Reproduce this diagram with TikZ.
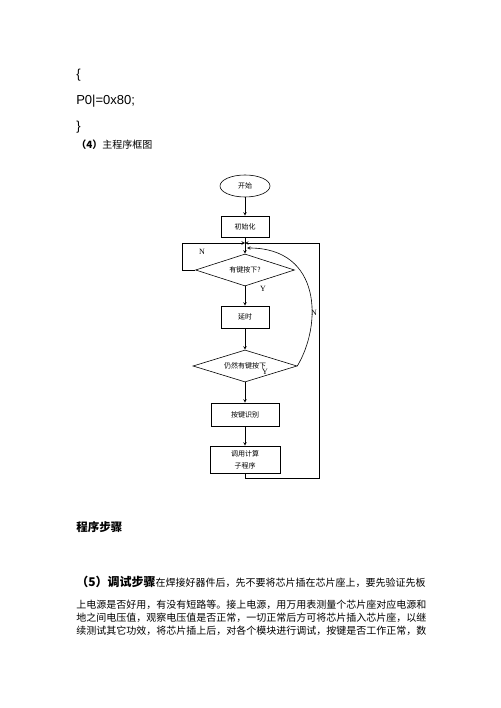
\documentclass[tikz,border=0pt]{standalone}
\usepackage{fontspec}
\setmainfont{Liberation Serif}
\newfontfamily\cjk{Noto Sans CJK SC}
\newfontfamily\codefont{Liberation Sans}
\usetikzlibrary{shapes.geometric, positioning}

\begin{document}
\begin{tikzpicture}[x=1pt, y=-1pt, line width=0.6pt, >=stealth,
		chart/.style={draw, inner sep=1pt, align=center, font=\cjk\fontsize{7}{12}\selectfont},
		procbox/.style={chart, rectangle, minimum width=#1, minimum height=21pt},
		decision/.style={chart, diamond, aspect=3.2, inner sep=0pt, minimum height=32pt, minimum width=#1},
		yn/.style={font=\fontsize{8}{8}\selectfont, inner sep=0pt},
		para/.style={anchor=west, inner sep=0pt, font=\cjk\fontsize{10}{10}\selectfont}]
		\fill[white] (0,0) rectangle (500,708);
		\useasboundingbox (0,0) rectangle (500,708);
		% Code lines and caption
		\node[para, font=\codefont\fontsize{13}{13}\selectfont] (open) at (76,75) {\{};
		\node[para, font=\codefont\fontsize{13}{13}\selectfont] (code) at (76,101) {P0|=0x80;};
		\node[para, font=\codefont\fontsize{13}{13}\selectfont] (close) at (76,127) {\}};
		\node[para] (cap) at (76,145) {{\bfseries （4）}主程序框图};
		% Flow chart
		\node[chart, ellipse, minimum width=50pt, minimum height=22pt] (start) at (245,186) {开始};
		\node[procbox=48pt] (init) at (245,226.5) {初始化};
		\coordinate (join) at (245,243);
		\node[decision=99pt] (d1) at (245,270) {有键按下?};
		\node[procbox=48pt, minimum height=22pt] (delay) at (245,317) {延时};
		\node[decision=104pt] (d2) at (245,366) {仍然有键按下};
		\node[procbox=68pt, minimum height=23pt] (ident) at (245,414.5) {按键识别};
		\node[procbox=70pt, minimum height=27pt] (call) at (245,459.5) {调用计算\\子程序};
		\draw[->] (start) -- (init);
		\draw (init) -- (join);
		\draw[->] (join) -- (d1);
		\draw[->] (d1) -- (delay);
		\draw[->] (delay) -- (d2);
		\draw[->] (d2) -- (ident);
		\draw[->] (ident) -- (call);
		\draw[->] (d1.west) -- ++(-12.5,0) |- (join);
		\draw[->] (call.south) -- ++(0,5) -- ++(74,0) |- (join);
		\draw[->] (d2.east) .. controls (322,325) and (322,248) .. ([xshift=2pt, yshift=-5pt]join);
		\node[yn] (n1) at (202,252) {N};
		\node[yn] (y1) at (263,289) {Y};
		\node[yn] (y2) at (265,372) {Y};
		\node[yn] (n2) at (314,313) {N};
		% Steps text
		\node[para, font=\cjk\bfseries\fontsize{11.5}{11.5}\selectfont] (steps) at (76,527) {程序步骤};
		\node[para] (l1) at (76,582) {{\bfseries\fontsize{12}{12}\selectfont （5）调试步骤}在焊接好器件后，先不要将芯片插在芯片座上，要先验证先板};
		\node[para] (l2) at (76,605) {上电源是否好用，有没有短路等。接上电源，用万用表测量个芯片座对应电源和};
		\node[para] (l3) at (76,618) {地之间电压值，观察电压值是否正常，一切正常后方可将芯片插入芯片座，以继};
		\node[para] (l4) at (76,631) {续测试其它功效，将芯片插上后，对各个模块进行调试，按键是否工作正常，数};
	\end{tikzpicture}
\end{document}
